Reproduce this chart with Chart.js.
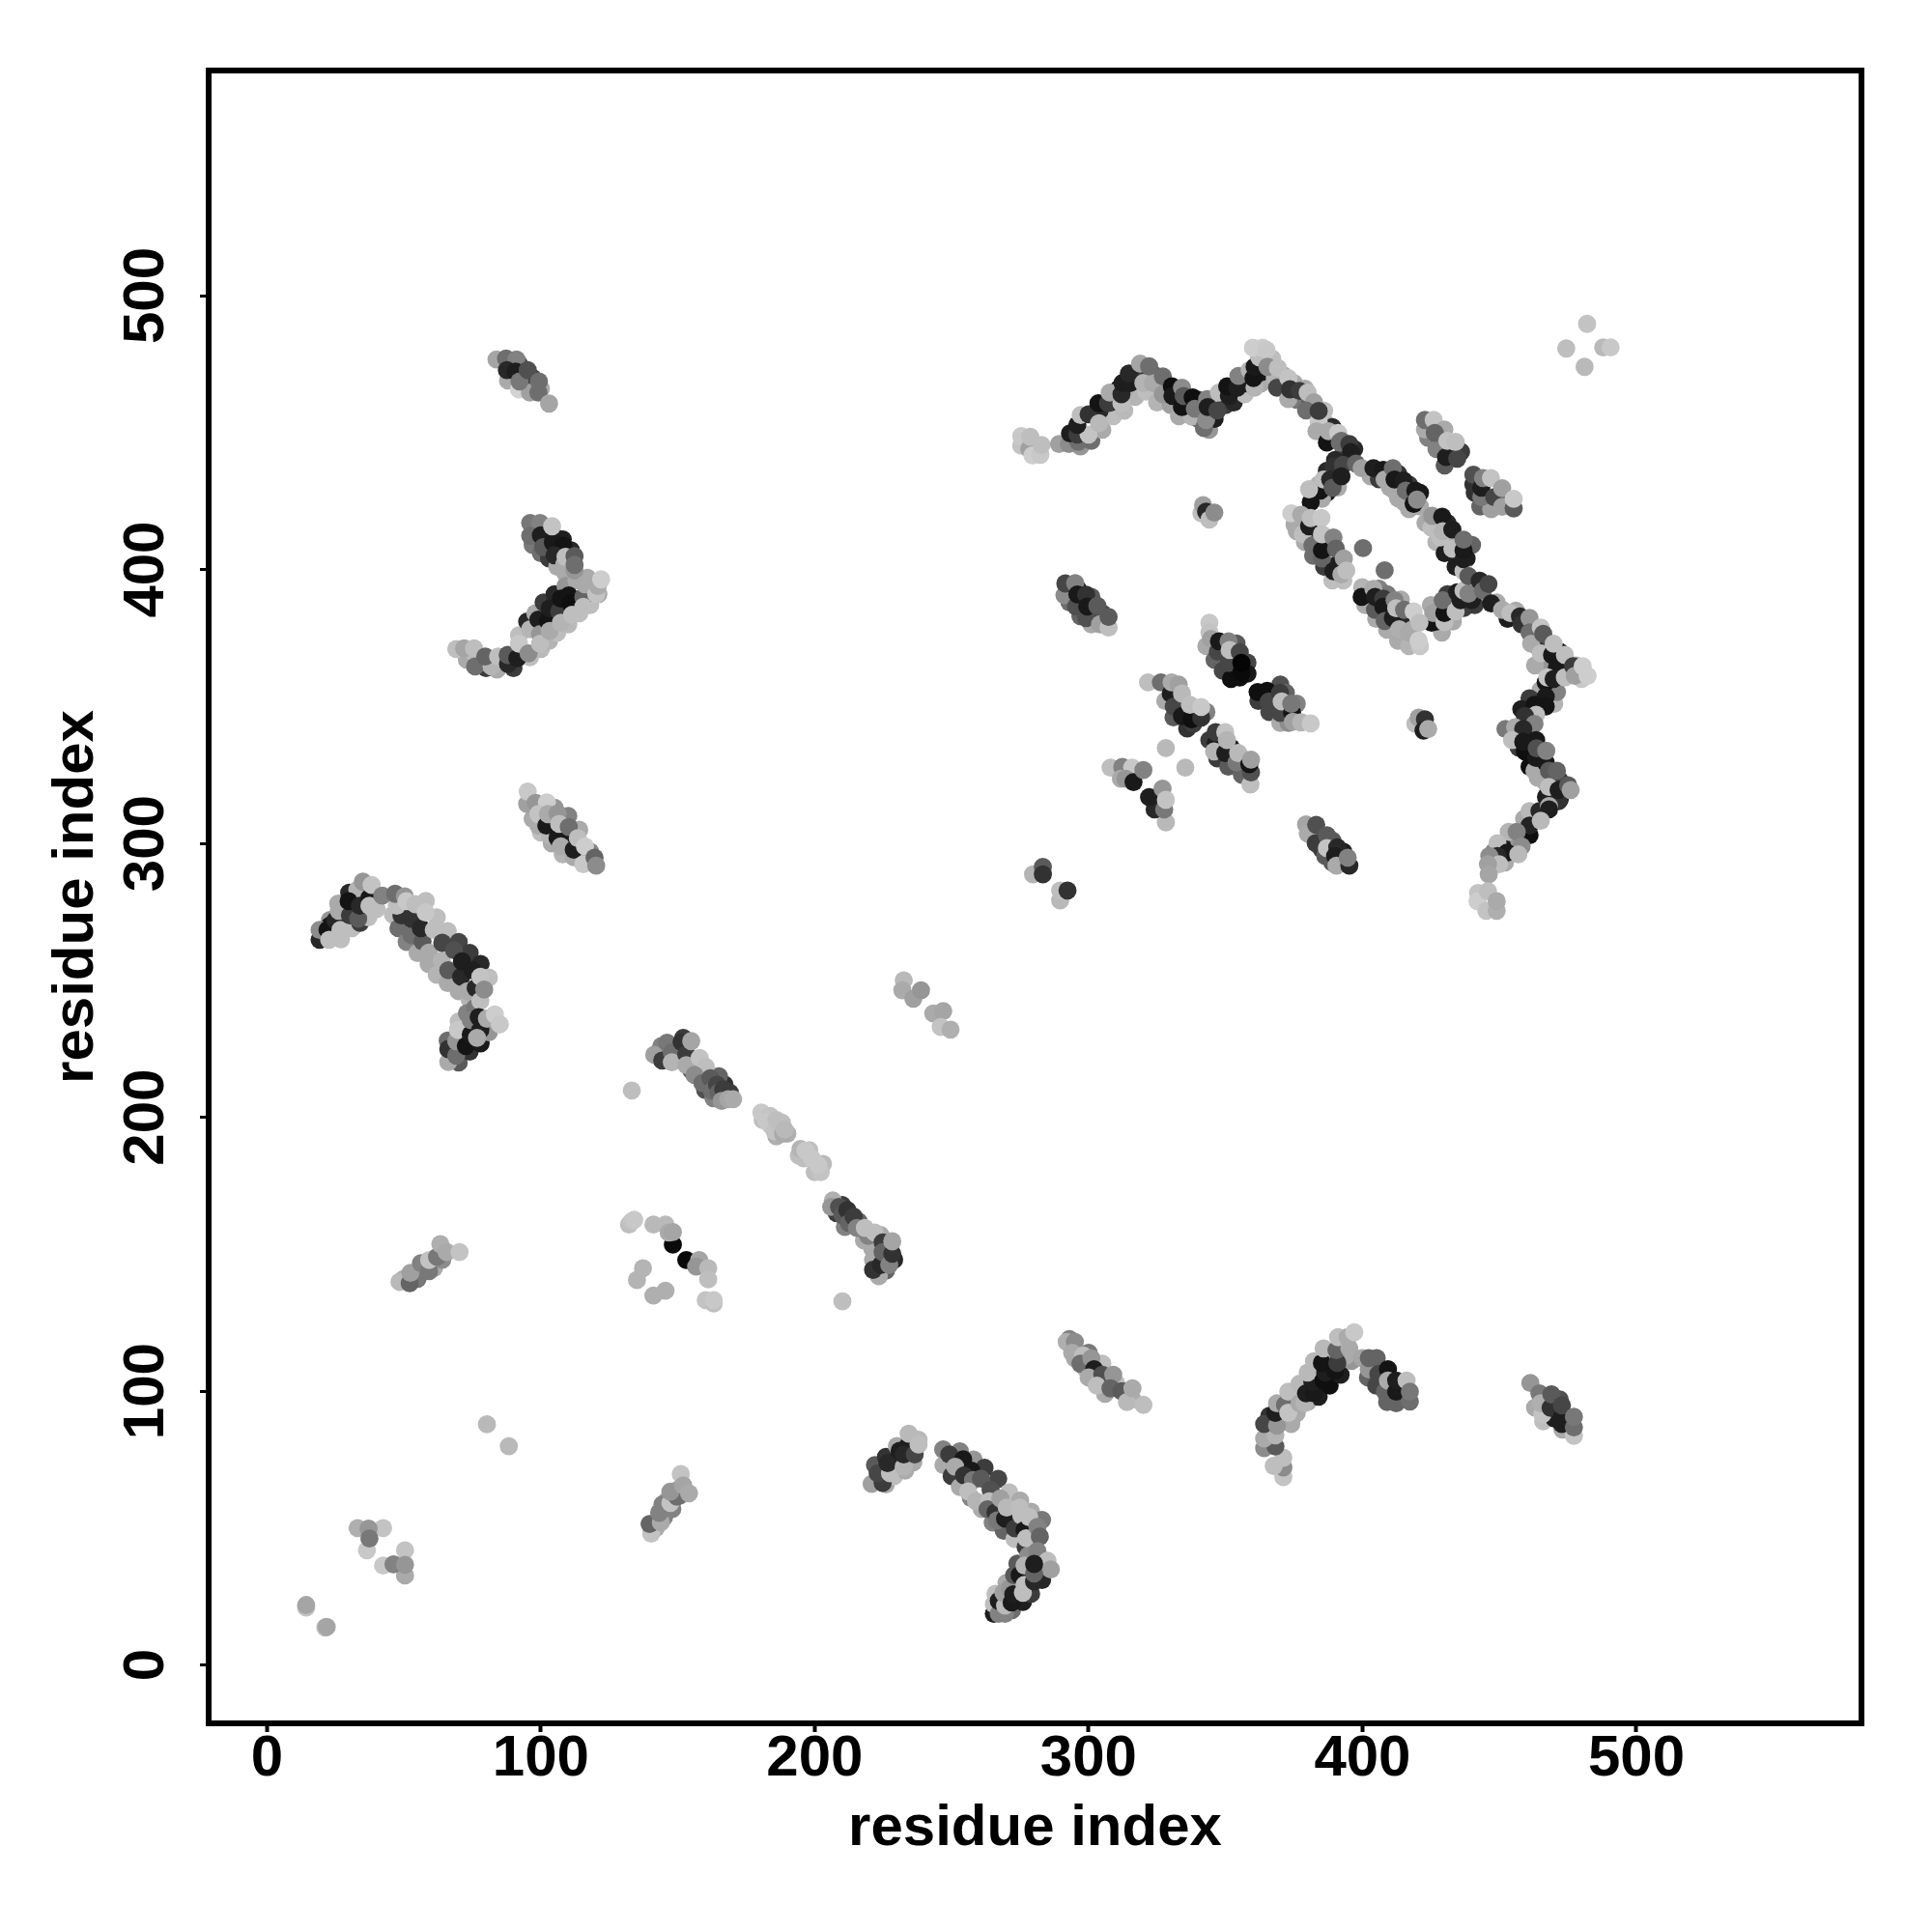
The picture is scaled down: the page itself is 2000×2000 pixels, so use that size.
<!DOCTYPE html>
<html>
<head>
<meta charset="UTF-8">
<title>residue contacts</title>
<script src="https://cdn.jsdelivr.net/npm/chart.js"></script>
<style>
  html, body { margin: 0; padding: 0; background: #fff; }
  #wrap { width: 2000px; height: 2000px; }
</style>
</head>
<body>
<div id="wrap"><canvas id="contacts" width="2000" height="2000"></canvas></div>
<script>
const tickValues = [0, 100, 200, 300, 400, 500];
const axisTitle = "residue index";

// each row: residue i, residue j, grey level
// contacts half hidden under the others come first
const underHookTop = [[97,409,120],[100,406,110],[103,404,60],[106,401,170],[109,398.5,170],[102,414,40],[105,412,30],[108,411,30],[111,407,40]];
const underHookBottom = [[96,368,190],[100,371,185],[103,374,180],[106,377,190],[110,380,185],[114,384,190],[118,387,190],[121,391,170],[92,376,190],[95,381,40],[98,384,170],[101,388,60],[105,391,40],[109,394,150],[113,396,170],[117,397,170],[118,393,100],[80,364,60],[84,363.5,170],[73,367,170],[78,366,150],[90,364,60],[76,369,185]];
const underStrands = [[88,469,170],[92,475,60],[94,468,100],[97,470,70],[100,466,170],[97,309,170],[100,304,190],[104,300,170],[108,296,180],[112,295,170],[116,295,190],[105,313,150],[110,310,130],[114,305,170],[118,297,130],[100,313,160],[55,141,120],[58,146,100],[61,145,170],[64,148,140],[50,141,170],[142,50,170],[145,54,130],[148,57,130],[150,64,165],[146,60,170],[151,62,140]];
const underHookLeft = [[27,265,190],[31,269,190],[34,271,60],[37,273,190],[40,276,190],[23,272,150],[26,278,170],[30,282,40],[33,283,180],[23,270,25],[29,275,25],[46,274,190],[48,269,110],[51,264,130],[55,260,170],[59,256,170],[62,252,180],[66,249,170],[70,246,170],[74,243,180],[58,279,190],[62,273,190],[66,268,190],[70,264,70],[74,260,60],[78,256,40],[81,251,190],[70,220,90],[74,224,50],[78,227,25],[81,231,150],[66,228,110],[70,235,190],[73,238,130],[76,240,120]];
const underMiddle = [[143,224,190],[149,221,170],[150,225,70],[156,221,120],[155,217,90],[158,215,60],[160,210,80],[163,207,130],[167,212,50],[165,215,100],[169,209,60],[144,226,130],[152,229,60],[208,165,60],[210,168,60],[213,162,50],[211,160,130],[216,162,100],[218,155,170],[221,152,170],[224,157,170],[226,144,100],[229,148,40],[227,153,100],[181,199,190],[184,197,190],[188,198,190],[190,194,175],[186,193,175],[196,185,190],[198,188,190],[200,180,190],[203,183,185]];
const underRidge = [[297,445,150],[301,447,110],[305,451,170],[309,456,190],[313,458,185],[317,463,180],[321,465,190],[325,461,180],[304,458,40],[308,461,30],[311,466,25],[316,471,80],[320,471,60],[324,471,90],[327,467,80],[330,460,160],[333,456,170],[336,461,60],[340,455,100],[344,451,150],[340,462,60],[346,455,30],[350,460,60],[353,461,40],[357,464,190],[358,468,30],[363,468,170],[363,472,25],[368,470,180],[367,477,190],[371,471,170],[375,468,170],[376,462,120],[381,461,90],[386,454,170],[386,458,190],[379,466,170],[389,452,40],[393,442,70],[397,444,40],[390,440,40],[387,436,40],[391,430,170],[384,431,180],[382,426,180],[387,428,25]];
const underRing = [[403,434,170],[406,433,60],[410,430,170],[413,426,170],[417,422,170],[421,423,170],[413,435,50],[417,431,60],[421,428,25],[423,417,170],[427,410,180],[431,411,170],[430,406,30],[434,405,30],[434,401,30],[440,409,100],[438,404,30],[427,416,30],[431,417,40],[429,377,170],[433,381,170],[437,386,60],[441,387,60],[431,391,60],[425,387,170],[427,381,30],[401,387,170],[405,382,170],[409,378,170],[413,374,170],[417,372,180],[421,372,200],[414,381,40],[418,378,170],[410,384,60],[406,393,130],[409,391,120],[414,389,170],[376,414,170],[379,410,170],[382,405,110],[386,401,60],[389,396,190],[393,396,190],[378,417,100],[383,414,60],[387,408,20],[391,402,30]];
const underArc = [[449,388,170],[453,382,30],[456,385,170],[462,378,60],[464,372,30],[468,365,150],[472,370,30],[475,365,170],[468,371,70],[463,365,170],[478,365,170],[480,360,200],[465,356,170],[470,351,180],[461,353,60],[458,349,30],[461,340,15],[457,335,60],[461,328,15],[465,326,60],[464,324,170],[467,322,170],[472,323,60],[472,316,20],[467,317,30],[463,310,60],[459,309,170],[456,302,20],[459,304,30],[454,300,150],[451,299,25],[452,293,170],[448,297,130]];
const underPeak = [[366,91,50],[370,90,150],[374,88,170],[376,92,170],[380,96,170],[384,98,30],[388,102,15],[392,106,30],[396,111,150],[376,98,170],[379,103,30],[383,108,30],[387,113,170],[392,117,100],[394,113,170],[402,105,100],[405,102,70],[409,96,100],[413,101,30],[416,98,100]];
const underHookRight = [[226,66,170],[229,69,190],[233,71,170],[236,74,170],[222,73,90],[226,76,50],[230,80,170],[229,74,25],[234,80,30],[247,73,170],[250,69,60],[253,65,170],[257,61,130],[261,57,170],[265,52,130],[269,49,100],[273,46,190],[277,43,60],[280,45,30],[253,78,130],[258,75,150],[262,72,60],[267,68,70],[271,63,190],[275,60,170],[279,56,170],[283,53,120],[266,26,190],[270,30,170],[274,37,90],[278,40,140],[272,20,110],[276,23,30],[279,26,60],[283,31,40],[284,36,130],[277,33,30]];
const underLadders = [[295,112,170],[299,108,190],[302,104,170],[306,99,170],[300,114,120],[305,110,190],[310,103,190],[313,100,150],[293,119,130],[316,97,170],[343,372,170],[346,367,100],[349,363,70],[352,360,15],[350,369,190],[354,373,90],[358,366,70],[358,362,25],[362,352,60],[366,348,70],[370,344,170],[373,344,140],[370,358,80],[372,355,100],[376,351,130],[328,352,170],[331,346,90],[336,342,50],[335,350,30],[338,347,30],[343,348,130],[347,331,60],[351,328,90],[356,325,100],[352,335,30],[356,331,30],[347,338,30],[424,448,130],[428,445,50],[430,438,90],[436,443,60],[443,423,100],[447,422,160],[452,425,100],[441,428,50],[293,388,110],[297,383,100],[301,380,170],[296,393,40],[301,390,90],[305,384,70],[382,303,90],[385,298,60],[389,293,90],[389,301,90],[393,297,30],[392,293,170],[463,94,170],[466,89,190],[470,90,30],[473,86,170],[476,88,30],[472,97,80]];

const farCorner = [[14.3,21,195],[14.3,21.9,165],[21.3,13.7,190],[21.8,13.9,165],[36.5,41.9,200],[33.1,50,175],[42.4,50,195],[37.1,49.8,150],[37.4,46.2,120],[42.4,36.3,200],[50.4,32.7,170],[50.4,41.9,195],[46.2,36.8,130],[50.4,36.6,150]];
const lonePairs = [[80.3,87.9,185],[88.3,79.9,185],[133.2,209.8,190],[210.1,132.8,190],[328.2,334.8,185],[335.3,327.7,185],[400.2,407.8,110],[408.1,399.7,110],[474.4,480.7,190],[482,489.7,195],[481.1,474,185],[487.9,481.1,185],[490.6,481.1,200]];
const strandA = [[48.4,139.9,185],[52.1,139.4,100],[52.4,143.2,160],[56.2,146.7,130],[59.2,143.8,120],[59.2,147.9,195],[62.1,149,120],[63.3,153.7,175],[65.6,150.8,170],[70.3,150.8,195]];
const strandB = [[140.3,48,195],[139.7,51.5,100],[143.8,52.1,170],[143.2,55.6,130],[144.4,58.6,130],[147.3,59.2,195],[149.7,61.5,110],[147.3,63.3,150],[151.1,69.7,195],[152,65.6,165],[154.1,62.7,170]];
const strandC = [[83.8,476.7,165],[87.3,477,110],[91.1,476.7,130],[87.6,472.8,40],[90.8,472.3,30],[92,465.8,210],[96,464.6,160],[99.1,464.6,110],[92.2,468.7,120],[95.2,472.8,80],[99.3,468.7,110],[103,460.6,165]];
const hookTop = [[96.1,417,120],[99.7,417,130],[96.1,412.3,110],[100,412.5,30],[100.8,408.2,90],[104.4,409.9,25],[108.2,408.7,20],[105,405.2,40],[104.1,415.8,195],[108.5,401.7,170],[112.3,399.6,150],[109,404.6,190],[112.3,404.9,90],[112.3,401.7,110]];
const hookBottom = [[69.1,371,190],[72,371.2,165],[75.6,371.2,190],[76,364.6,110],[82,364.6,180],[79.7,368.2,100],[84.4,368.2,190],[88,365.5,40],[87.9,368.8,90],[91.4,367.6,30],[92,372.9,200],[95.5,369.4,140],[96.1,378.2,180],[99.1,381.7,30],[99.7,376.4,150],[99.7,372.9,190],[102.6,381.1,20],[103.2,385.8,30],[103.2,377.6,170],[106.7,384.7,60],[107.3,380.6,180],[107.3,389.4,20],[110.2,390.5,20],[110.8,387.6,15],[111.4,383.5,190],[115.5,390,100],[115.5,386.4,190],[116.1,394.6,170],[120.2,391,195],[120.8,394,170],[122,396.4,205]];
const strandD = [[95,314.4,160],[95.2,318.9,200],[98.1,314.8,150],[102.2,315,205],[99.1,306.5,170],[103.2,303,180],[99.1,310.7,195],[102,306.5,25],[102.6,310.7,170],[106.1,310.9,150],[106.1,301.9,25],[109,300.7,25],[107.3,298.9,170],[106.7,307.1,190],[110.2,306,110],[112,297.7,30],[115.5,292.4,200],[113.5,301.9,190],[116.1,298.9,205],[119.6,294.8,100],[120.2,291.9,140]];
const hookLeft = [[19.2,264.8,40],[19.2,268.4,140],[22.1,268.4,20],[22.7,264.8,190],[25,271.9,40],[26.8,268.4,190],[26.2,275.4,170],[30.3,273.7,60],[29.8,278.9,20],[33.3,272.5,90],[33.9,277.2,40],[37.4,280.1,25],[37.4,277.2,190],[35,286,150],[38.2,284.8,195],[42.1,280.9,130],[49.1,273.7,50],[52.7,266.6,110],[52.7,272.5,50],[47.4,277.2,190],[46.8,281.6,110],[50.3,280.7,150],[50.9,278.9,200],[54.2,277.8,190],[56.8,264.2,90],[56.2,269,40],[59.1,260.1,170],[57.9,274.8,200],[60.9,268.4,190],[63.8,257.2,180],[66.2,253.7,90],[64,263.7,70],[68.3,261,80],[70.9,251.3,40],[73.2,246,170],[71.2,256.9,30],[75,253.7,30],[76.2,247.2,40],[77.9,242.5,190],[77.9,251.3,195],[79.3,246.6,140]];
const hookLeftFoot = [[66.2,220.2,170],[66.2,224.9,50],[69.1,222.5,110],[69.1,227.8,150],[69.7,231.9,200],[72.6,226,20],[74.4,230.2,25],[74.4,235.5,130],[77.9,231.9,30],[76.7,229,170],[77.3,236.6,30],[80.3,236,170],[83.2,237.5,205],[85,233.9,200]];
const strandE = [[141.4,222.8,160],[144.3,220.7,60],[146.1,227.2,120],[147.8,223.7,110],[147.8,220.1,180],[151.4,227.5,50],[153.1,223,60],[153.1,219,170],[154.9,227.8,165],[158,221.7,195],[160.2,218.4,190],[156.1,215.4,140],[159,212.5,110],[161.9,214.3,90],[162.5,209.6,110],[164.3,211.9,70],[164.9,209,100],[166.6,210.2,60],[166,206,150],[168.4,206.6,165],[170.2,206.6,170]];
const strandF = [[180.5,201.7,200],[183.7,200.5,195],[182.5,198.4,200],[185.4,194.9,195],[188.4,194,170],[186,199,190],[189,195.5,185]];
const strandG = [[194.2,186,190],[194.8,188.4,180],[196.6,187.8,200],[199,184.9,200],[202.2,180,195],[201.3,182.5,200]];
const strandH = [[206.6,169.6,175],[206,167.3,150],[208.9,167.3,80],[210.1,164.3,90],[211.9,166.1,50],[212.5,161.4,100],[214.2,163.7,60],[215.4,159.6,130],[219.5,156.7,130],[218.3,159.6,190],[221.3,147.9,170],[223.4,142,170],[221.3,144.3,50],[221.9,157.9,190],[224.2,146.1,40],[224.8,154.3,60],[224.8,150.8,100],[227.2,146.1,130],[228.3,150.2,50],[228.3,154.7,165]];
const strandI = [[132.2,160.8,190],[133.2,162,195],[134.1,162.6,200],[141.1,160.8,185],[145.5,160.8,185],[148.2,153.5,10],[146.7,157.9,170],[148.2,158.1,165],[153.1,147.9,10],[157.8,147.9,165],[156.7,145.5,150],[161.1,144.9,185],[161.1,140.8,190],[137.3,144.9,180],[135.1,140.6,180],[145.5,136.7,175],[141.1,134.9,175],[160.2,133.2,195],[163.1,132,190],[163.1,133.2,200]];
const strandJ = [[232.5,250,185],[232,246.4,170],[236,243.3,160],[238.8,246.4,150],[243.3,237.9,170],[246.9,238.8,165],[246,233,195],[249.6,232,175]];
const strandK = [[279.7,288.7,180],[283.3,291.4,90],[283.3,288.7,50],[289.6,279.2,185],[289.6,282.8,190],[292.3,282.8,50]];
const hookRightLow = [[220.8,66.1,160],[224.8,66.5,60],[223,70,70],[227.5,70,190],[226.6,73.7,40],[231,78.2,30],[232.5,72.4,180],[232.5,76.9,40],[234.3,84.5,185],[236.5,76.9,70],[237.9,82.3,185],[237.9,80.5,190],[246.9,78.7,130],[249.1,76.9,60],[254.2,75.1,25],[251.3,72.4,170],[257.2,71,25],[254.5,69.2,50],[257.8,67.5,120],[260.7,68.1,90],[256,63.4,190],[258.9,59.8,180],[264.2,64,80],[263.7,59.8,190],[263.1,56.9,100],[266,55.7,50],[266.6,52.8,120],[267.8,60.8,160],[269.5,53.4,30],[270.1,57.5,185],[273.1,49.9,60],[274.8,57.5,190],[275.4,54.6,190],[276.6,49.3,25],[277.2,46.3,190],[278.3,54,190],[281.3,50.4,130],[282.2,46.9,100],[281.3,41.6,130],[285,38.1,190],[286.2,34.9,160]];
const hookRightFoot = [[265.4,18.7,30],[265.4,22.2,190],[267.2,18.7,130],[269.5,18.7,130],[267.2,23.4,30],[269.5,21.7,185],[268.9,26.4,160],[271.9,22.8,25],[271.3,28.1,150],[272.5,25.8,30],[276,26.4,190],[272.8,32.8,90],[274.8,32.8,25],[276.6,29.3,190],[280.1,30.5,40],[276.6,36.3,180],[280.1,33.4,100],[280.1,36.9,30]];
const ridgeMain = [[275.4,445.2,195],[275.4,448.7,200],[278.3,444,160],[278.7,448.5,190],[279.5,441.7,205],[282.4,441.9,200],[282.8,445.5,190],[289.2,445.8,160],[292.8,445.8,140],[296.3,446.6,110],[293.2,449.7,30],[295.9,449.3,60],[300,449.3,195],[295.9,452.8,30],[297.1,456.4,190],[300,456.7,50],[303.8,453.4,185],[303.6,460.7,20],[307.1,460.7,60],[312,460.7,190],[307.7,464.6,170],[312,464,40],[312.4,468.1,30],[315.1,468.1,30],[314.7,471.6,40],[320,468.1,180],[318.8,475.2,165],[323.5,468.1,170],[322.1,474.2,110],[327.1,464,150],[327.1,470.5,110],[330.4,466.9,15],[330.6,463.4,25],[334.1,466.4,140],[337.7,455.8,180],[334.1,459.3,20],[334.7,463.4,90],[338,462.8,15],[338.8,458.7,120],[342.1,451.7,110],[342.9,454.6,140],[343.3,462.2,130],[343.5,459.3,30],[347,458.1,70],[347.6,464.6,190],[351.2,463.4,30],[350.6,466.9,20],[354.3,466.4,30],[354.7,470.7,130],[358.8,472.8,180],[360.6,466.4,180],[360.2,469.9,20],[360.6,474,25],[362.3,477.5,190],[360,481,205],[363.5,481,205],[364.9,480.2,200],[365.3,474,140],[369.1,473.6,190],[368.8,466.4,70],[372.9,462.2,170],[372.9,469.9,195],[373.5,465.8,50],[377,465.2,60],[380,464.6,190],[382.3,461.1,160],[379.4,458.1,110],[384,454,200],[384,457.9,60],[383.2,450.5,170],[387,446.4,20],[387.6,450.5,170],[391.1,449.9,200],[392.3,447,110],[391.7,446.4,110],[395.2,445.8,60],[395.8,442.9,30],[389.4,437.6,50],[392.9,438.2,70],[397.6,438.7,100],[399.7,437,160]];
const ringLeftUp = [[385.2,425.8,170],[384.6,428.8,20],[381.1,424.6,20],[380.5,429.3,190],[385.8,432.9,190],[388.2,432.9,40],[389.1,429.9,90],[392.3,434,30]];
const ringTop = [[404,437,30],[407.6,436.4,25],[408.1,432.9,170],[411.1,437,110],[411.7,428.8,170],[411.7,432.9,25],[415,432.5,30],[415.2,424.6,170],[415.8,428.8,110],[418.7,424,20],[419.3,428.8,25],[419.9,425.5,140]];
const ringRight = [[425.2,415.2,190],[425.4,419.6,150],[429.1,419.3,25],[428.4,411.7,190],[429.3,414,180],[432.8,414.6,30],[432.8,407.6,190],[436.9,399.4,190],[436.9,403.8,30],[436.9,407,25],[436.9,410.9,110]];
const ringJoin = [[425.2,380.6,20],[425.8,384.1,160],[429.9,380.8,190],[429.9,384.1,20],[429.3,388.8,110],[434,384.7,190],[434.6,391.7,30],[435.8,388.8,30],[439.9,388.8,30],[436.9,392.3,190],[438.7,391.2,130],[438.7,397.6,90],[442.8,395.9,40],[444,392.3,110],[446,394.7,70]];
const ringBottom = [[399.9,393.5,180],[399.7,390,20],[404,392.9,170],[404.6,385.3,90],[404.6,390,30],[407.6,389.4,60],[407.6,386.4,25],[408.1,381.2,100],[411.7,388.8,130],[411.1,382.3,30],[412.3,385.9,190],[413.4,378.2,175],[415.2,385.3,110],[417,377,170],[418.7,384.7,205],[420.8,380.6,190],[420.5,374.1,205]];
const ringLeftLow = [[375.2,416.4,170],[374,420.5,205],[377.6,420,170],[378.2,412.9,190],[380.5,415.8,30],[381.1,418.8,190],[385,418.8,200],[381.7,408.8,110],[385.2,404,100],[385.2,407,20],[385.2,412.9,195],[389.4,411.7,130],[390.3,407.6,100],[389.4,399.4,30],[393.2,404,160],[392.3,398.2,170],[394.1,399.6,190]];
const strandL = [[422.8,451.1,170],[422.8,454.6,110],[426,454.6,195],[429.9,451.1,170],[427,444,130],[426.4,449.9,100],[430.5,441.1,30],[434.6,440.5,70],[431,447,195],[434,446.6,190]];
const strandM = [[440.5,431.1,50],[440.5,434.6,80],[443.4,426.4,120],[443.4,429.9,30],[444,433.4,130],[446.9,433.4,195],[448.1,426.4,70],[451,422.9,160],[451,429.7,160],[455.2,422.3,90],[455.2,425.8,200]];
const clusterN = [[341.2,420.5,190],[341.8,423.5,160],[342.9,421.1,40],[344.1,418.2,190],[345.9,420.8,140]];
const clusterO = [[419.3,343.6,190],[420.5,345.9,160],[422.8,345.3,50],[422.3,341.2,30],[424,341.8,170]];
const strandP = [[291.2,390.6,140],[291.5,394.9,70],[295.1,395,130],[295.4,386.5,80],[295.9,390.9,25],[299.1,382.3,80],[299.1,390.8,50],[299.5,386.5,25],[303.2,386.7,90],[304.2,380,160],[307.3,378.8,190],[307.3,382.7,90]];
const arcRight = [[447,387.6,30],[451,385.3,170],[454,384.1,190],[457.5,382.9,40],[458.1,380,50],[461,382.3,150],[461,377,110],[461.6,372.9,170],[465.1,378.8,195],[466,376.5,90],[465.1,369.4,190],[469.2,368.8,25],[469.8,372.9,190],[471,364.1,25],[473.9,368.8,190],[471,355.3,130],[466.9,358.8,20],[467.5,360.6,195],[469.8,360,30],[473.9,360.6,190],[476.9,364.7,60],[477.5,361.2,160],[480.4,364.7,205],[482.2,361.2,205]];
const arcMiddle = [[466.9,353.6,25],[466.9,350,20],[462.8,350.6,20],[463.4,347,190],[459.3,346.5,50],[462.8,343.6,130],[452.2,341.8,120],[455.7,342.4,170],[458.7,341.8,40],[454.6,337.7,190],[459.3,333.6,15],[458.7,337.1,25],[463.4,337.7,25],[462.8,326.5,170],[463.4,331.2,25],[466.9,329.5,25],[463.6,334.7,80],[467.1,333.8,130],[468.1,326.5,90],[471,326.5,100]];
const arcLower = [[471.6,315.4,50],[468.1,320.6,190],[471.6,319.5,30],[475.1,321.2,90],[476,319.5,160],[461,311.8,185],[464.6,311.8,40],[468.1,313.6,170],[468.1,312.4,30],[461,303,15],[461,306.5,35],[465.1,308.3,185],[453.4,304.2,180],[456.3,304.2,130],[458.1,298.9,140],[449.3,300.1,190],[452.8,296.6,25],[456.9,296,185],[449.3,295.4,40],[446.3,295.4,140],[449.9,292.4,190],[445.8,292.4,160],[446.1,288.7,165]];
const arcFoot = [[442.2,281.9,195],[442,278.9,205],[445.2,275.4,195],[445.8,282.5,190],[449,275.4,175],[449,278.9,170]];
const strandQ = [[344.1,380.6,200],[344.1,377,195],[344.7,374.7,160],[347.2,370,70],[347.6,373.8,25],[351.1,365.9,70],[351.1,373.8,130],[351.5,370.6,190],[355.2,369.8,70],[355.2,360.6,15],[355.8,362.4,10],[355.8,365.9,5]];
const strandR = [[361.7,355.3,15],[365.2,355.7,15],[365.8,351.8,70],[369.9,347.7,70],[369.9,355,60],[370.5,351.8,190],[374.3,347.7,20],[374,351,120],[374.6,344.4,160],[377.6,344.2,180],[381.1,343.8,200]];
const strandS = [[321.7,358.8,190],[326.4,358.8,110],[330,354.7,30],[330.3,358.8,170],[332.9,358,160],[331.1,350,70],[334.1,346.5,25],[338.2,343.6,60],[337.6,345.3,15],[341.1,345.9,50],[334.1,354.7,185],[337,350.6,190],[341.1,349.8,200]];
const strandT = [[344.1,337.7,60],[346.4,336.5,30],[346.4,340.6,60],[345.8,333.6,180],[349.9,333,30],[349.9,340.6,195],[350.5,337.7,180],[354,329.5,120],[354.6,333,185],[359.1,321.5,190],[359.3,325.9,80],[358.7,328.9,20],[359.3,330.6,160]];
const strandU = [[308,327.7,190],[312.3,327.9,130],[315.9,327.7,200],[311.8,323.6,170],[313.5,323.6,150],[316.4,322.4,25],[320,326.8,130]];
const strandV = [[328.2,307.7,185],[324.1,312.4,40],[322.1,316.9,30],[327,320,150],[327.6,312.4,120],[328.2,315.9,195]];
const strandW = [[379.4,306.9,165],[380,303.6,170],[383.1,306.8,80],[382.9,300.1,60],[387,303,90],[386.4,295.4,90],[387,298.3,195],[390.8,298.6,40],[390,295.4,30],[390.5,291.9,170],[395.2,291.9,40],[394.6,294.8,130]];
const hookDiag = [[292,118,175],[295,118,140],[294,114,170],[298,113,190],[297,110,110],[301,112,150],[302,108,30],[300,105,170],[305,106,80],[303,102,190],[309,106,150],[308,101,100],[312,100,90],[314,96,185],[316,101,170],[320,95,190]];
const arcPeak = [[371.1,68.6,195],[371.1,72.1,140],[367.6,72.7,190],[371.1,75.7,190],[364.1,79.2,140],[368.2,79.8,90],[364.1,82.7,170],[368.2,83.9,180],[364.1,88,70],[368.8,87.4,150],[368.2,92.1,30],[368.8,95.6,170],[371.7,95,110],[372.9,92.1,195],[372.9,99.8,190],[377,95.6,170],[378.8,95.6,180],[377,102.7,185],[379.4,99.2,30],[382.3,99.2,25],[381.7,103.3,30],[380,106.8,185],[385.8,103.9,15],[386.4,106.8,30],[382.3,110.9,185],[385.2,110.3,20],[390,107.4,20],[385.8,115.6,185],[390.8,110.3,60],[390.5,115,100],[391.1,119.7,190],[395.2,115.6,170],[394.6,119.7,170],[397,121.5,200]];
const arcPeakDown = [[399.9,112.1,165],[402.3,108,150],[402.3,112.1,100],[405.2,112.1,100],[405.8,106.2,70],[408.2,99.8,100],[409.3,108,20],[409.3,103.9,170],[412.3,95.6,100],[412.3,99.8,25],[412.3,103.9,30],[416.1,103.9,190],[417.3,96.2,110],[417.3,99.8,120]];
const strandY = [[461.3,103,150],[464.6,99.2,120],[465.7,91.5,195],[465.1,95.6,175],[468.7,93.9,50],[469,98.8,90],[472.8,88,30],[472.8,90.4,30],[472.8,94.8,70],[477.2,83.7,195],[477.2,86.8,110],[477.2,90.6,120]];

const allContacts = [
  underHookTop, underHookBottom, underStrands, underHookLeft, underMiddle, underRidge, underRing, underArc,
  underPeak, underHookRight, underLadders,
  farCorner, lonePairs, strandA, strandB, strandC, hookTop, hookBottom, strandD, hookLeft, hookLeftFoot,
  strandE, strandF, strandG, strandH, strandI, strandJ, strandK, hookRightLow, hookRightFoot, ridgeMain,
  ringLeftUp, ringTop, ringRight, ringJoin, ringBottom, ringLeftLow, strandL, strandM, clusterN, clusterO,
  strandP, arcRight, arcMiddle, arcLower, arcFoot, strandQ, strandR, strandS, strandT, strandU, strandV,
  strandW, hookDiag, arcPeak, arcPeakDown, strandY
].flat();

// R style box all the way round
const boxPlugin = {
  id: "box",
  afterDraw(chart) {
    const { ctx, chartArea: a } = chart;
    ctx.save();
    ctx.strokeStyle = "#000";
    ctx.lineWidth = 6;
    ctx.strokeRect(a.left, a.top, a.right - a.left, a.bottom - a.top);
    ctx.restore();
  }
};

const axisFont = { family: "'Liberation Sans'", size: 60, weight: "bold" };

new Chart(document.getElementById("contacts"), {
  type: "scatter",
  plugins: [boxPlugin],
  data: {
    datasets: [{
      data: allContacts.map(r => ({ x: r[0], y: r[1] })),
      pointBackgroundColor: allContacts.map(r => `rgb(${r[2]},${r[2]},${r[2]})`),
      pointBorderWidth: 0,
      pointRadius: 9.4,
      pointHoverRadius: 9.4
    }]
  },
  options: {
    responsive: false,
    animation: false,
    clip: false,
    layout: { padding: { top: 73, right: 73, left: 0, bottom: 0 } },
    plugins: { legend: { display: false }, tooltip: { enabled: false } },
    scales: {
      x: {
        type: "linear",
        min: -21.3,
        max: 582.2,
        afterBuildTicks: s => { s.ticks = tickValues.map(v => ({ value: v })); },
        afterFit: s => { s.height = 216; },
        grid: { drawOnChartArea: false, drawTicks: true, tickLength: 9, tickWidth: 4, color: "#000" },
        border: { display: false },
        ticks: { color: "#000", font: axisFont, padding: -8, maxRotation: 0, minRotation: 0, autoSkip: false },
        title: { display: true, text: axisTitle, color: "#000", font: axisFont, padding: { top: 0, bottom: 71 } }
      },
      y: {
        type: "linear",
        min: -21.3,
        max: 582.2,
        afterBuildTicks: s => { s.ticks = tickValues.map(v => ({ value: v })); },
        afterFit: s => { s.width = 216; },
        grid: { drawOnChartArea: false, drawTicks: true, tickLength: 9, tickWidth: 3, color: "#000" },
        border: { display: false },
        ticks: { color: "#000", font: axisFont, padding: 4, crossAlign: "center", maxRotation: 90, minRotation: 90, autoSkip: false },
        title: { display: true, text: axisTitle, color: "#000", font: axisFont, padding: { top: 43, bottom: 0 } }
      }
    }
  }
});
</script>
</body>
</html>
